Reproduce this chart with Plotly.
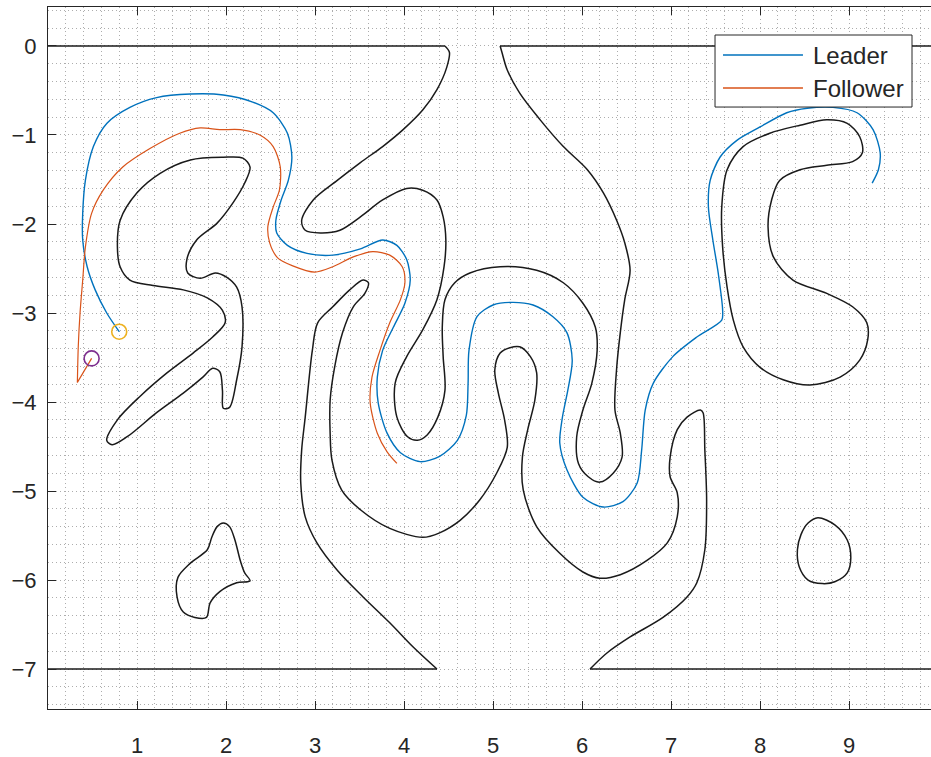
import plotly.graph_objects as go

# ---------------- data ----------------
top_wall_left_x = [0.0, 4.46]
top_wall_left_y = [0.0, 0.0]
top_wall_right_x = [5.08, 9.95]
top_wall_right_y = [0.0, 0.0]
bottom_wall_left_x = [0.0, 4.37]
bottom_wall_left_y = [-7.0, -7.0]
bottom_wall_right_x = [6.09, 9.95]
bottom_wall_right_y = [-7.0, -7.0]

upper_x = [4.46, 4.51, 4.48, 4.37, 4.21, 3.99, 3.76, 3.51, 3.25, 2.98, 2.85, 2.89, 3.06, 3.28, 3.51,
           3.76, 4.03, 4.21, 4.37, 4.44, 4.47, 4.45, 4.37, 4.21, 4.03, 3.90, 3.92, 4.04, 4.15, 4.26,
           4.38, 4.46, 4.44, 4.43, 4.46, 4.57, 4.74, 5.08, 5.49, 5.79, 6.01, 6.15, 6.17, 6.11, 6.01,
           5.94, 5.96, 6.07, 6.20, 6.35, 6.45, 6.43, 6.37, 6.39, 6.43, 6.48, 6.54, 6.48, 6.39, 6.24,
           6.06, 5.79, 5.53, 5.30, 5.16, 5.10, 5.08]
upper_y = [0.0, -0.07, -0.24, -0.49, -0.72, -0.94, -1.13, -1.31, -1.51, -1.73, -1.96, -2.07, -2.10, -2.07, -1.92,
           -1.73, -1.60, -1.62, -1.73, -1.92, -2.18, -2.48, -2.85, -3.19, -3.49, -3.79, -4.17, -4.39, -4.43, -4.37,
           -4.17, -3.87, -3.49, -3.16, -2.85, -2.66, -2.55, -2.48, -2.52, -2.66, -2.89, -3.16, -3.42, -3.79, -4.09,
           -4.39, -4.69, -4.84, -4.90, -4.80, -4.62, -4.35, -4.09, -3.61, -3.22, -2.85, -2.52, -2.21, -1.96, -1.65,
           -1.39, -1.13, -0.83, -0.53, -0.27, -0.07, 0.0]

lower_x = [4.37, 4.10, 3.84, 3.54, 3.25, 3.02, 2.89, 2.84, 2.85, 2.89, 2.97, 3.03, 3.20, 3.39, 3.54,
           3.60, 3.56, 3.43, 3.31, 3.22, 3.17, 3.17, 3.19, 3.30, 3.51, 3.84, 4.21, 4.40, 4.63, 4.85,
           5.04, 5.16, 5.13, 5.06, 5.02, 5.08, 5.19, 5.30, 5.42, 5.49, 5.47, 5.39, 5.33, 5.34, 5.49,
           5.75, 6.01, 6.20, 6.43, 6.73, 6.96, 7.07, 7.07, 6.99, 6.99, 7.07, 7.18, 7.33, 7.36, 7.38,
           7.40, 7.38, 7.29, 7.18, 6.91, 6.54, 6.28, 6.09]
lower_y = [-7.0, -6.75, -6.48, -6.19, -5.89, -5.58, -5.29, -4.91, -4.54, -4.17, -3.42, -3.11, -2.93, -2.74, -2.63,
           -2.66, -2.78, -2.93, -3.22, -3.61, -3.98, -4.35, -4.65, -4.99, -5.21, -5.42, -5.52, -5.47, -5.33, -5.10,
           -4.80, -4.51, -4.20, -3.90, -3.64, -3.45, -3.39, -3.38, -3.49, -3.67, -3.98, -4.31, -4.62, -4.99, -5.40,
           -5.70, -5.91, -5.98, -5.94, -5.78, -5.58, -5.29, -5.02, -4.84, -4.62, -4.31, -4.17, -4.09, -4.12, -4.54,
           -5.10, -5.66, -6.03, -6.19, -6.42, -6.64, -6.82, -7.0]

left_obs_x = [1.99, 1.85, 1.63, 1.34, 1.03, 0.78, 0.66, 0.72, 0.89, 1.22, 1.52, 1.74, 1.85, 1.93, 1.96,
              1.97, 2.04, 2.12, 2.18, 2.18, 2.12, 2.01, 1.88, 1.71, 1.57, 1.56, 1.67, 1.90, 2.08, 2.21,
              2.27, 2.19, 1.97, 1.60, 1.26, 1.00, 0.81, 0.78, 0.81, 0.92, 1.18, 1.52, 1.79, 1.96, 1.99]
left_obs_y = [-3.11, -3.27, -3.45, -3.67, -3.94, -4.20, -4.43, -4.48, -4.39, -4.12, -3.90, -3.72, -3.62, -3.66, -3.87,
              -4.07, -4.06, -3.75, -3.38, -2.93, -2.71, -2.60, -2.55, -2.61, -2.55, -2.40, -2.18, -1.99, -1.76, -1.54,
              -1.36, -1.26, -1.25, -1.28, -1.43, -1.65, -1.96, -2.26, -2.48, -2.63, -2.69, -2.74, -2.83, -2.97, -3.11]

small_obs_x = [2.27, 2.12, 1.93, 1.82, 1.78, 1.65, 1.52, 1.45, 1.46, 1.60, 1.79, 1.84, 1.90, 1.97, 2.04, 2.10, 2.16, 2.21, 2.27]
small_obs_y = [-6.01, -6.03, -6.13, -6.26, -6.42, -6.42, -6.36, -6.19, -5.97, -5.81, -5.66, -5.52, -5.40, -5.36, -5.40, -5.55, -5.78, -5.92, -6.01]

c_obs_x = [7.57, 7.63, 7.81, 8.11, 8.45, 8.75, 8.98, 9.12, 9.15, 9.04, 8.75, 8.45, 8.22, 8.13, 8.09, 8.15,
           8.37, 8.75, 9.04, 9.20, 9.21, 9.12, 8.90, 8.56, 8.26, 8.00, 7.81, 7.70, 7.63, 7.58, 7.57]
c_obs_y = [-1.81, -1.39, -1.13, -0.98, -0.89, -0.83, -0.87, -1.02, -1.20, -1.30, -1.34, -1.39, -1.51, -1.73, -2.03, -2.37,
           -2.63, -2.78, -2.93, -3.11, -3.30, -3.53, -3.72, -3.81, -3.75, -3.61, -3.38, -3.08, -2.71, -2.26, -1.81]

oval_x = [8.42, 8.46, 8.54, 8.65, 8.84, 8.98, 9.02, 8.98, 8.84, 8.70, 8.54, 8.44, 8.42]
oval_y = [-5.66, -5.49, -5.36, -5.30, -5.38, -5.55, -5.75, -5.92, -6.02, -6.04, -6.00, -5.85, -5.66]

leader_x = [0.80, 0.66, 0.53, 0.44, 0.39, 0.39, 0.42, 0.51, 0.66, 0.92, 1.22, 1.60, 1.97, 2.30, 2.53,
            2.69, 2.74, 2.70, 2.62, 2.56, 2.57, 2.69, 2.91, 3.20, 3.51, 3.76, 3.92, 4.03, 4.07, 4.01,
            3.88, 3.76, 3.70, 3.71, 3.81, 3.96, 4.18, 4.40, 4.60, 4.70, 4.72, 4.73, 4.82, 5.00, 5.22,
            5.45, 5.67, 5.83, 5.89, 5.84, 5.78, 5.75, 5.83, 6.01, 6.24, 6.46, 6.62, 6.67, 6.71, 6.80,
            7.02, 7.29, 7.57, 7.58, 7.53, 7.47, 7.42, 7.44, 7.55, 7.74, 8.00, 8.30, 8.53, 8.82, 9.09,
            9.27, 9.35, 9.33, 9.26]
leader_y = [-3.21, -3.00, -2.74, -2.48, -2.18, -1.88, -1.51, -1.13, -0.87, -0.69, -0.58, -0.54, -0.55, -0.63, -0.75,
            -0.98, -1.25, -1.51, -1.73, -1.96, -2.10, -2.24, -2.33, -2.35, -2.28, -2.18, -2.24, -2.40, -2.63, -2.89,
            -3.16, -3.42, -3.72, -4.01, -4.35, -4.57, -4.67, -4.61, -4.43, -4.15, -3.79, -3.42, -3.04, -2.91, -2.88,
            -2.91, -3.04, -3.22, -3.53, -3.87, -4.17, -4.46, -4.76, -5.07, -5.18, -5.12, -4.91, -4.54, -4.09, -3.79,
            -3.49, -3.27, -3.08, -2.97, -2.55, -2.18, -1.81, -1.51, -1.25, -1.06, -0.91, -0.75, -0.70, -0.69, -0.75,
            -0.94, -1.20, -1.39, -1.54]

follower_x = [0.49, 0.33, 0.34, 0.36, 0.39, 0.42, 0.49, 0.62, 0.84, 1.15, 1.48, 1.71, 1.93, 2.16, 2.38,
              2.53, 2.61, 2.60, 2.53, 2.47, 2.49, 2.58, 2.75, 3.00, 3.20, 3.43, 3.65, 3.84, 3.98, 4.01,
              3.96, 3.84, 3.73, 3.64, 3.62, 3.70, 3.81, 3.92]
follower_y = [-3.51, -3.78, -3.38, -3.00, -2.63, -2.26, -1.88, -1.62, -1.36, -1.15, -0.98, -0.92, -0.94, -0.94, -1.00,
              -1.13, -1.36, -1.62, -1.81, -2.03, -2.21, -2.38, -2.47, -2.54, -2.48, -2.37, -2.31, -2.35, -2.48, -2.66,
              -2.85, -3.11, -3.42, -3.72, -4.01, -4.35, -4.56, -4.69]

series_names = ["Leader", "Follower"]
x_tick_vals = [1, 2, 3, 4, 5, 6, 7, 8, 9]
y_tick_vals = [0, -1, -2, -3, -4, -5, -6, -7]

# ---------------- styling ----------------
BLACK = "#1a1a1a"
AX = "#262626"
LEADER_C = "#0072BD"
FOLLOWER_C = "#D95319"
GRID_C = "#adadad"
FONT = "Arial, Liberation Sans, sans-serif"

fig = go.Figure()

def obstacle(x, y, shape="spline"):
    fig.add_trace(go.Scatter(x=x, y=y, mode="lines", showlegend=False, hoverinfo="skip",
                             line=dict(color=BLACK, width=1.5, shape=shape, smoothing=0.9)))

for wx, wy in [(top_wall_left_x, top_wall_left_y), (top_wall_right_x, top_wall_right_y),
               (bottom_wall_left_x, bottom_wall_left_y), (bottom_wall_right_x, bottom_wall_right_y)]:
    obstacle(wx, wy, "linear")
for ox, oy in [(upper_x, upper_y), (lower_x, lower_y), (left_obs_x, left_obs_y),
               (small_obs_x, small_obs_y), (c_obs_x, c_obs_y), (oval_x, oval_y)]:
    obstacle(ox, oy)

fig.add_trace(go.Scatter(x=leader_x, y=leader_y, mode="lines", name=series_names[0],
                         line=dict(color=LEADER_C, width=1.4, shape="spline", smoothing=0.8)))
fig.add_trace(go.Scatter(x=follower_x[:2], y=follower_y[:2], mode="lines", showlegend=False,
                         line=dict(color=FOLLOWER_C, width=1.2)))
fig.add_trace(go.Scatter(x=follower_x[1:], y=follower_y[1:], mode="lines", name=series_names[1],
                         line=dict(color=FOLLOWER_C, width=1.2, shape="spline", smoothing=0.8)))
fig.add_trace(go.Scatter(x=[leader_x[0]], y=[leader_y[0]], mode="markers", showlegend=False,
                         marker=dict(symbol="circle-open", size=15, color="#EDB120", line=dict(width=1.6))))
fig.add_trace(go.Scatter(x=[follower_x[0]], y=[follower_y[0]], mode="markers", showlegend=False,
                         marker=dict(symbol="circle-open", size=15, color="#7E2F8E", line=dict(width=1.6))))

axis_common = dict(
    showline=True, linecolor=AX, linewidth=1,
    ticks="inside", ticklen=8, tickcolor=AX, tickwidth=1,
    tickfont=dict(family=FONT, size=22, color=AX),
    showgrid=True, gridcolor=GRID_C, griddash="1px,3px", gridwidth=1,
    zeroline=False,
    minor=dict(dtick=0.2, tick0=0, showgrid=True, gridcolor=GRID_C, griddash="1px,3px", gridwidth=1, ticks=""),
)

fig.update_xaxes(range=[0.0, 9.921], tickmode="array", tickvals=x_tick_vals, mirror="ticks",
                 ticklabelstandoff=17, **axis_common)
fig.update_yaxes(range=[-7.449, 0.438], tickmode="array", tickvals=y_tick_vals, mirror=False,
                 ticklabelstandoff=6, **axis_common)

# legend box (drawn in paper coordinates)
lx0, lx1, ly0, ly1 = 0.7554, 0.9785, 0.8575, 0.9601
fig.add_shape(type="rect", xref="paper", yref="paper", x0=lx0, x1=lx1, y0=ly0, y1=ly1,
              fillcolor="white", line=dict(color=AX, width=1), layer="above")
for name, col, yy in [(series_names[0], LEADER_C, 0.9316), (series_names[1], FOLLOWER_C, 0.8846)]:
    fig.add_shape(type="line", xref="paper", yref="paper", x0=0.7644, x1=0.8550, y0=yy, y1=yy,
                  line=dict(color=col, width=1.4), layer="above")
    fig.add_annotation(xref="paper", yref="paper", x=0.8640, y=yy, text=name, showarrow=False,
                       xanchor="left", yanchor="middle", font=dict(family=FONT, size=24, color=AX))

fig.update_layout(width=931, height=757, margin=dict(l=48, r=0, t=7, b=48),
                  plot_bgcolor="white", paper_bgcolor="white", showlegend=False)

fig.write_html("out.html")
